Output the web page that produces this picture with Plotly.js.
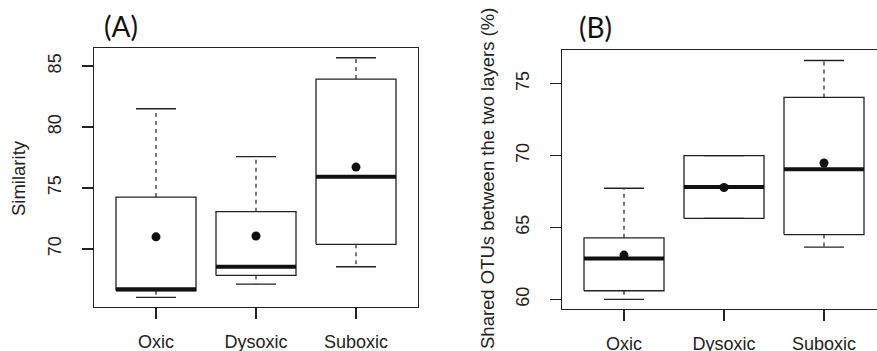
<!DOCTYPE html>
<html>
<head>
<meta charset="utf-8">
<script src="https://cdn.plot.ly/plotly-3.0.1.min.js"></script>
<style>
html,body{margin:0;padding:0;overflow:hidden;background:#fff;}
#chart{width:890px;height:351px;}
</style>
</head>
<body>
<div id="chart"></div>
<script>
// ---- data ----
const categories = ['Oxic', 'Dysoxic', 'Suboxic'];
const catPos = [1, 2, 3];

// Panel A: Similarity
const simLow    = [66.04, 67.13, 68.55];
const simQ1     = [66.58, 67.84, 70.39];
const simMedian = [66.70, 68.55, 75.93];
const simQ3     = [74.26, 73.06, 83.93];
const simHigh   = [81.50, 77.57, 85.68];
const simMean   = [71.00, 71.07, 76.72];

// Panel B: Shared OTUs between the two layers (%)
const otuLow    = [60.00, 65.63, 63.63];
const otuQ1     = [60.60, 65.63, 64.51];
const otuMedian = [62.85, 67.82, 69.05];
const otuQ3     = [64.28, 70.00, 74.05];
const otuHigh   = [67.73, 70.00, 76.62];
const otuMean   = [63.08, 67.78, 69.49];

const yTicksA = [70, 75, 80, 85];
const yTicksB = [60, 65, 70, 75];

// ---- style ----
const INK = '#222222';
const BOX_HALF = 0.4, CAP_HALF = 0.2;

function boxTraces(low, q1, med, q3, high, mean, xa, ya) {
  const bx = [], by = [], wx = [], wy = [], cx = [], cy = [], mx = [], my = [];
  catPos.forEach((p, i) => {
    bx.push(p - BOX_HALF, p + BOX_HALF, p + BOX_HALF, p - BOX_HALF, p - BOX_HALF, null);
    by.push(q1[i], q1[i], q3[i], q3[i], q1[i], null);
    wx.push(p, p, null, p, p, null);
    wy.push(q3[i], high[i], null, q1[i], low[i], null);
    cx.push(p - CAP_HALF, p + CAP_HALF, null, p - CAP_HALF, p + CAP_HALF, null);
    cy.push(high[i], high[i], null, low[i], low[i], null);
    mx.push(p - BOX_HALF, p + BOX_HALF, null);
    my.push(med[i], med[i], null);
  });
  const common = {type: 'scatter', mode: 'lines', xaxis: xa, yaxis: ya, hoverinfo: 'skip', showlegend: false};
  return [
    Object.assign({}, common, {x: wx, y: wy, line: {color: INK, width: 1.2, dash: '4px,4px'}}),
    Object.assign({}, common, {x: cx, y: cy, line: {color: INK, width: 1.3}}),
    Object.assign({}, common, {x: bx, y: by, line: {color: INK, width: 1.3}}),
    Object.assign({}, common, {x: mx, y: my, line: {color: '#111', width: 4}}),
    {type: 'scatter', mode: 'markers', x: catPos, y: mean, xaxis: xa, yaxis: ya,
     marker: {color: '#111', size: 9}, hoverinfo: 'skip', showlegend: false}
  ];
}

const data = [].concat(
  boxTraces(simLow, simQ1, simMedian, simQ3, simHigh, simMean, 'x', 'y'),
  boxTraces(otuLow, otuQ1, otuMedian, otuQ3, otuHigh, otuMean, 'x2', 'y2')
);

const W = 890, H = 351;
const tickFont = {family: 'Liberation Sans, Arial, sans-serif', size: 18, color: INK};
const titleFont = {family: 'Liberation Sans, Arial, sans-serif', size: 18.5, color: INK};

function xAxis(domain, anchor) {
  return {
    domain: domain, anchor: anchor, range: [0.38, 3.62],
    tickmode: 'array', tickvals: catPos, ticktext: categories,
    ticks: 'outside', ticklen: 11, tickwidth: 1.3, tickcolor: INK,
    showline: true, mirror: true, linecolor: INK, linewidth: 1.3,
    showgrid: false, zeroline: false, tickfont: tickFont, ticklabelstandoff: 7, fixedrange: true
  };
}
function yAxis(domain, anchor, range, ticks) {
  return {
    domain: domain, anchor: anchor, range: range,
    tickmode: 'array', tickvals: ticks,
    ticks: 'outside', ticklen: 11, tickwidth: 1.3, tickcolor: INK,
    showline: true, mirror: true, linecolor: INK, linewidth: 1.3,
    showgrid: false, zeroline: false, tickfont: tickFont, tickangle: -90,
    ticklabelstandoff: 14, fixedrange: true
  };
}

const layout = {
  width: W, height: H,
  margin: {l: 0, r: 0, t: 0, b: 0},
  paper_bgcolor: '#fff', plot_bgcolor: '#fff',
  xaxis: xAxis([94 / W, 418 / W], 'y'),
  yaxis: yAxis([(H - 307) / H, (H - 48) / H], 'x', [65.25, 86.48], yTicksA),
  xaxis2: xAxis([562 / W, 886 / W], 'y2'),
  yaxis2: yAxis([(H - 309) / H, (H - 50) / H], 'x2', [59.33, 77.35], yTicksB),
  annotations: [
    {text: 'Similarity', xref: 'paper', yref: 'paper', x: 18 / W, y: (H - 178) / H,
     textangle: -90, showarrow: false, xanchor: 'center', yanchor: 'middle', font: titleFont},
    {text: 'Shared OTUs between the two layers (%)', xref: 'paper', yref: 'paper', x: 487 / W, y: (H - 179) / H,
     textangle: -90, showarrow: false, xanchor: 'center', yanchor: 'middle', font: titleFont},
    {text: '(A)', xref: 'paper', yref: 'paper', x: 121 / W, y: (H - 26) / H,
     showarrow: false, xanchor: 'center', yanchor: 'middle',
     font: {family: 'Lato, Open Sans, sans-serif', size: 28, color: '#111'}},
    {text: '(B)', xref: 'paper', yref: 'paper', x: 595 / W, y: (H - 27) / H,
     showarrow: false, xanchor: 'center', yanchor: 'middle',
     font: {family: 'Lato, Open Sans, sans-serif', size: 28, color: '#111'}}
  ]
};

Plotly.newPlot('chart', data, layout, {staticPlot: true, displayModeBar: false});
</script>
</body>
</html>
